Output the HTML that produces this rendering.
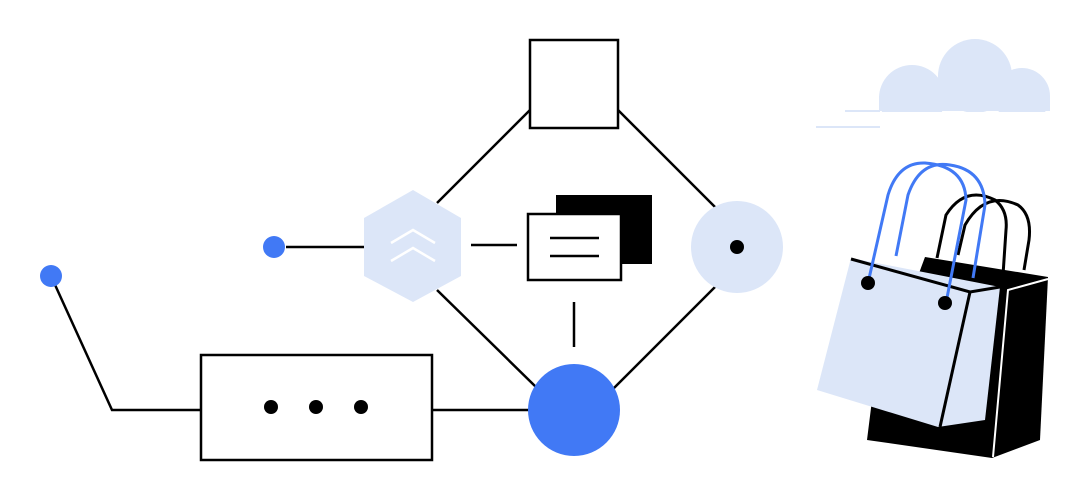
<!DOCTYPE html>
<html><head><meta charset="utf-8"><style>html,body{margin:0;padding:0;background:#fff}svg{display:block}</style></head>
<body>
<svg width="1087" height="500" viewBox="0 0 1087 500" xmlns="http://www.w3.org/2000/svg">
<g stroke="#000" stroke-width="2.5" fill="none">
<line x1="530" y1="110" x2="437" y2="203"/>
<line x1="618" y1="110" x2="716" y2="208"/>
<line x1="437" y1="290" x2="537" y2="388"/>
<line x1="716" y1="286" x2="612" y2="390"/>
<line x1="574" y1="302" x2="574" y2="347"/>
<line x1="471" y1="245" x2="517" y2="245"/>
<line x1="286" y1="247" x2="364" y2="247"/>
<polyline points="51,276 112,410 201,410"/>
<line x1="432" y1="410" x2="530" y2="410"/>
</g>
<rect x="530" y="40" width="88" height="88" fill="#fff" stroke="#000" stroke-width="2.5"/>
<polygon points="413,190 461,218 461,276 413,302 364,276 364,218" fill="#dce6f8"/>
<g stroke="#fff" stroke-width="2.5" fill="none">
<polyline points="391,243 413,230 435,243"/>
<polyline points="391,261 413,248 435,261"/>
</g>
<rect x="556" y="195" width="96" height="69" fill="#000"/>
<rect x="528" y="214" width="93" height="66" fill="#fff" stroke="#000" stroke-width="2.5"/>
<line x1="550" y1="238" x2="599" y2="238" stroke="#000" stroke-width="2.5"/>
<line x1="550" y1="256" x2="599" y2="256" stroke="#000" stroke-width="2.5"/>
<circle cx="737" cy="247" r="46" fill="#dce6f8"/>
<circle cx="737" cy="247" r="7" fill="#000"/>
<circle cx="574" cy="410" r="46" fill="#4179f5"/>
<circle cx="274" cy="247" r="11" fill="#4179f5"/>
<circle cx="51" cy="276" r="11" fill="#4179f5"/>
<rect x="201" y="355" width="231" height="105" fill="#fff" stroke="#000" stroke-width="2.5"/>
<circle cx="271" cy="407" r="7" fill="#000"/>
<circle cx="316" cy="407" r="7" fill="#000"/>
<circle cx="361" cy="407" r="7" fill="#000"/>
<!-- cloud -->
<g fill="#dce6f8">
<circle cx="975" cy="76" r="37"/>
<circle cx="912" cy="98" r="33"/>
<circle cx="1022" cy="96" r="28"/>
<rect x="879" y="96" width="171" height="15"/>
<rect x="930" y="80" width="80" height="31"/>
</g>
<rect x="800" y="112" width="287" height="30" fill="#fff"/>
<line x1="845" y1="111" x2="880" y2="111" stroke="#dce6f8" stroke-width="2"/>
<line x1="816" y1="127" x2="880" y2="127" stroke="#dce6f8" stroke-width="2"/>
<!-- bags -->
<g stroke="#000" stroke-width="3" fill="none">
<path d="M937,258 L946,215 Q965,185 995,200 Q1008,210 1006,230 L1003,275"/>
<path d="M958,255 L965,225 Q985,190 1018,205 Q1032,215 1029,240 L1024,270"/>
</g>
<polygon points="925,257 1048,277 1040,440 992,458 867,440 872,400" fill="#000"/>
<polyline points="1048,279 1008,290 993,457" stroke="#fff" stroke-width="2" fill="none"/>
<polygon points="851,258 1000,287 985,420 938,427 817,390" fill="#dce6f8"/>
<polyline points="851,259 970,292 1000,287" stroke="#000" stroke-width="3" fill="none"/>
<line x1="970" y1="292" x2="940" y2="427" stroke="#000" stroke-width="3"/>
<g stroke="#4179f5" stroke-width="3" fill="none">
<path d="M896,256 L908,195 Q920,160 950,165 Q984,170 985,205 L973,278"/>
<path d="M868,283 L888,195 Q898,162 925,163 Q965,166 966,200 L946,303"/>
</g>
<circle cx="868" cy="283" r="7" fill="#000"/>
<circle cx="945" cy="303" r="7" fill="#000"/>
</svg>
</body></html>
